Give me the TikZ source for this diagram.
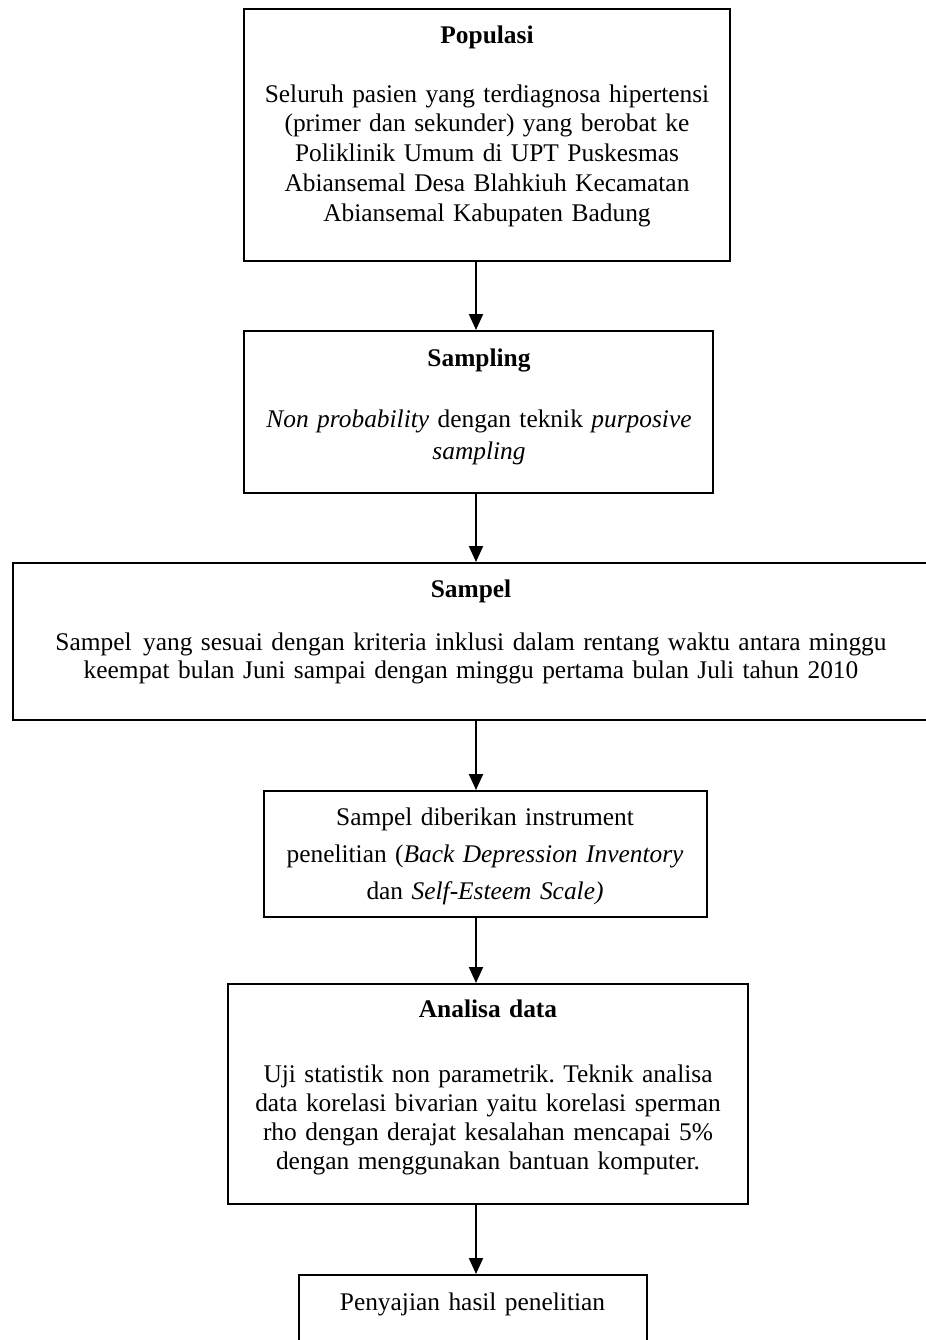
\documentclass[tikz,border=0pt]{standalone}
\usepackage{fontspec}
\setmainfont{Liberation Serif}
\usetikzlibrary{arrows.meta}
\frenchspacing
\begin{document}
\begin{tikzpicture}[x=0.5pt,y=-0.5pt,
  box/.style={draw=black, line width=1pt, rectangle, inner sep=0pt},
  txt/.style={anchor=base, align=center, inner sep=0pt},
  arr/.style={line width=1pt, -{Triangle[width=7pt,length=8pt]}}]
\useasboundingbox (0,0) rectangle (926,1340);
\clip (0,0) rectangle (926,1340);
\coordinate (ax) at (476,0);
% boxes
\node[box, minimum width=243pt, minimum height=126pt] (b1) at (487,135) {};
\node[box, minimum width=234.5pt, minimum height=81pt] (b2) at (478.5,412) {};
\node[box, minimum width=458.5pt, minimum height=78.5pt] (b3) at (471,641.5) {};
\node[box, minimum width=221.5pt, minimum height=63pt] (b4) at (485.5,854) {};
\node[box, minimum width=260pt, minimum height=110pt] (b5) at (488,1094) {};
\node[box, minimum width=174.25pt, minimum height=62.5pt] (b6) at (472.75,1337.5) {};
% texts
\node[txt, text width=250pt, font=\fontsize{12.7}{14.9}\selectfont] (t1) at (487,43)
  {{\bfseries Populasi}\\[14.6pt]
   Seluruh pasien yang terdiagnosa hipertensi\\
   (primer dan sekunder) yang berobat ke\\
   Poliklinik Umum di UPT Puskesmas\\
   Abiansemal Desa Blahkiuh Kecamatan\\
   Abiansemal Kabupaten Badung};
\node[txt, text width=240pt, font=\fontsize{12.7}{16}\selectfont] (t2) at (479,366)
  {{\bfseries Sampling}\\[14.5pt]
   \textit{Non probability} dengan teknik \textit{purposive}\\
   \textit{sampling}};
\node[txt, text width=455pt, font=\fontsize{12.7}{13.75}\selectfont] (t3) at (471,597)
  {{\bfseries Sampel}\\[13pt]
   Sampel\hspace{0.45em}yang sesuai dengan kriteria inklusi dalam rentang waktu antara minggu\\
   keempat bulan Juni sampai dengan minggu pertama bulan Juli tahun 2010};
\node[txt, text width=220pt, font=\fontsize{12.7}{18.5}\selectfont] (t4) at (485,825)
  {Sampel diberikan instrument\\
   penelitian (\textit{Back Depression Inventory}\\
   dan \textit{Self-Esteem Scale)}};
\node[txt, text width=258pt, font=\fontsize{12.7}{14.5}\selectfont] (t5) at (488,1017)
  {{\bfseries Analisa data}\\[18pt]
   Uji statistik non parametrik. Teknik analisa\\
   data korelasi bivarian yaitu korelasi sperman\\
   rho dengan derajat kesalahan mencapai 5\%\\
   dengan menggunakan bantuan komputer.};
\node[txt, text width=172pt, font=\fontsize{12.7}{14.5}\selectfont] (t6) at (472.5,1310)
  {Penyajian hasil penelitian};
% arrows
\draw[arr] (b1.south -| ax) -- (b2.north -| ax);
\draw[arr] (b2.south -| ax) -- (b3.north -| ax);
\draw[arr] (b3.south -| ax) -- (b4.north -| ax);
\draw[arr] (b4.south -| ax) -- (b5.north -| ax);
\draw[arr] (b5.south -| ax) -- (b6.north -| ax);
\end{tikzpicture}
\end{document}
